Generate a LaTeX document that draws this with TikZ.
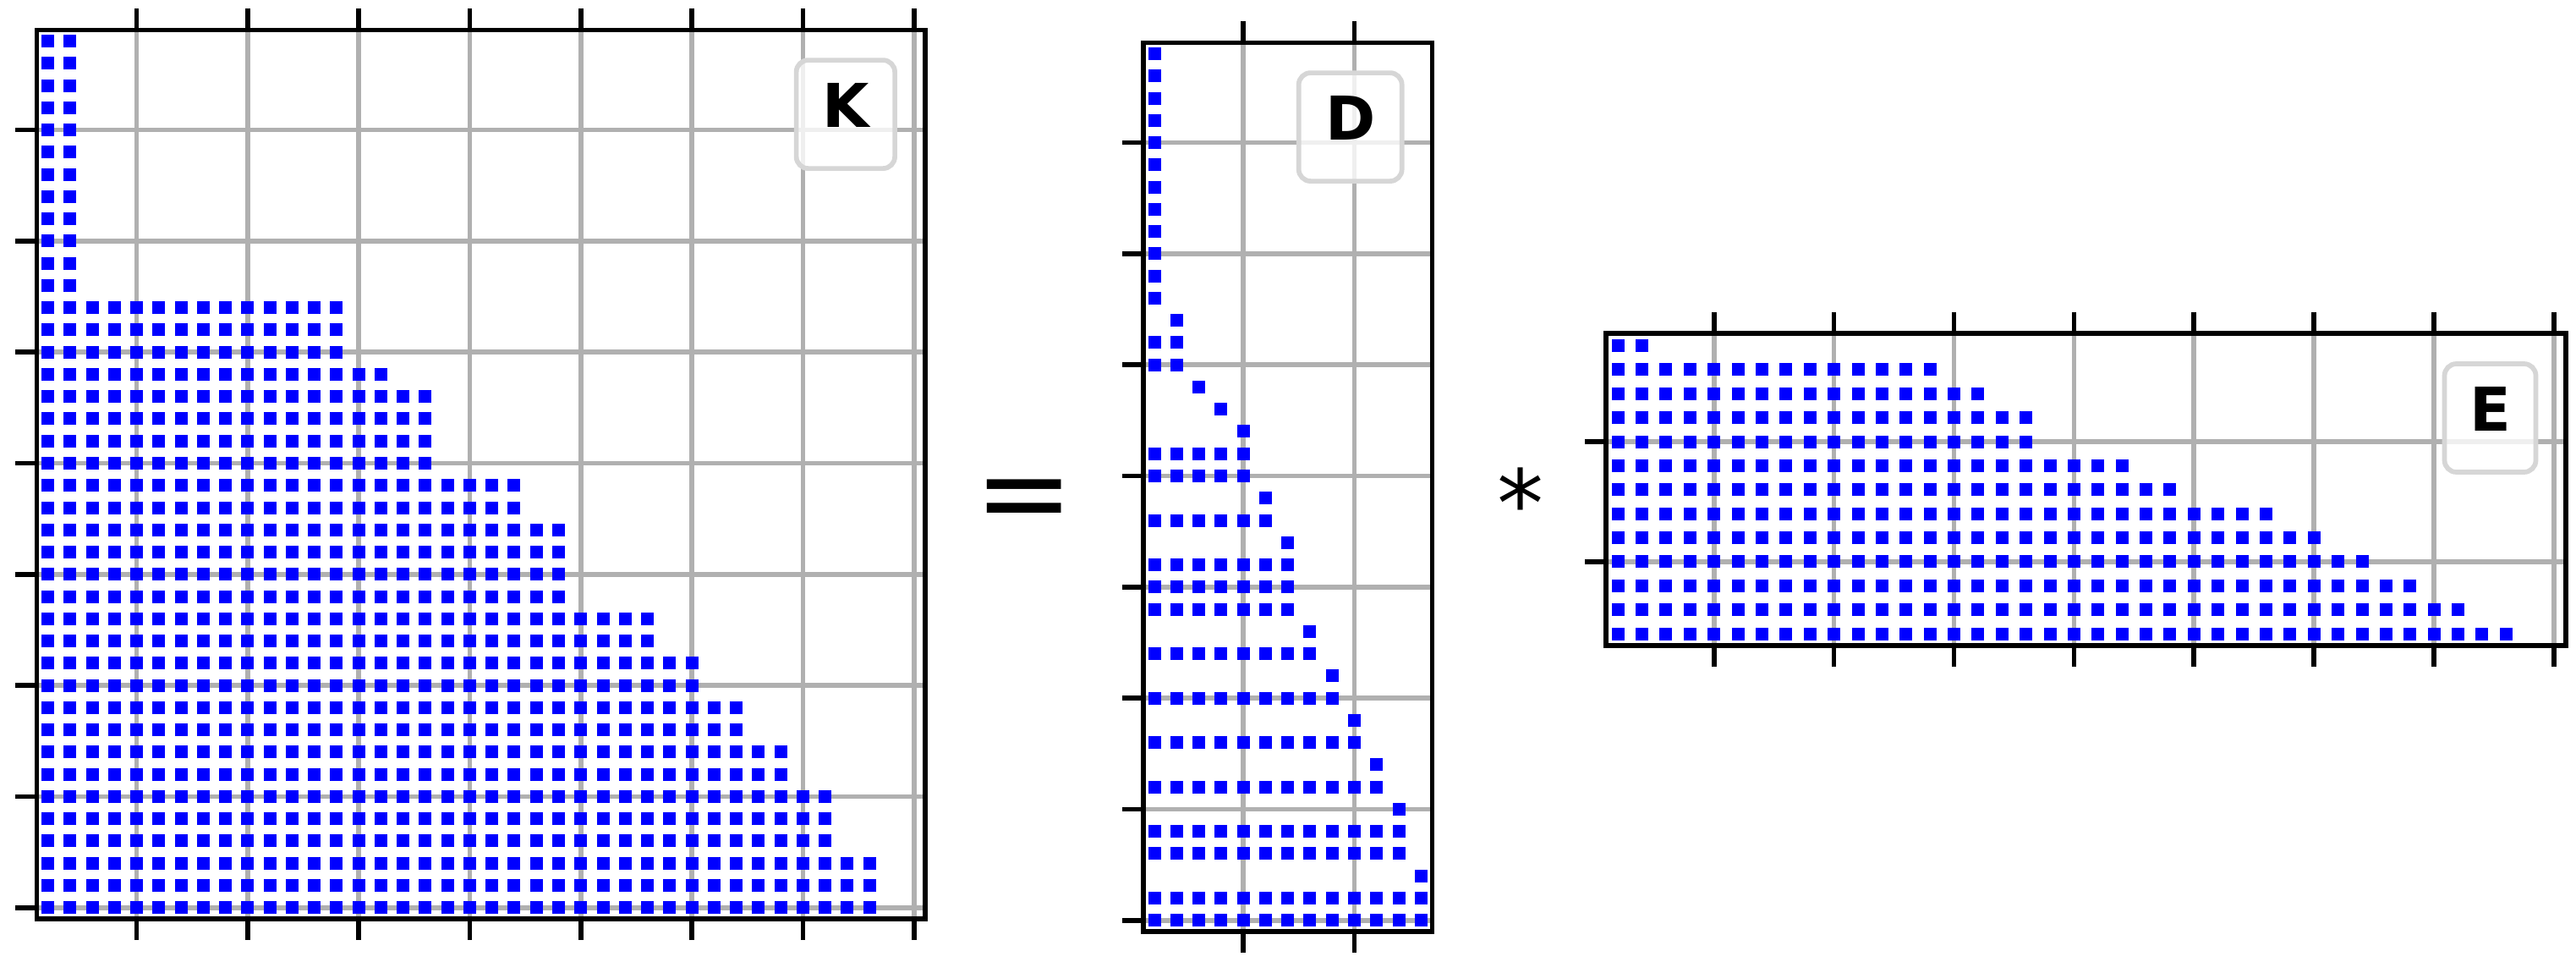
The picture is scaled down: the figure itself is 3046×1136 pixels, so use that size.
\documentclass[tikz,border=0pt]{standalone}
\usepackage{fontspec}
\newfontfamily\djsans{DejaVu Sans}
\definecolor{gridgrey}{HTML}{B0B0B0}
\definecolor{markerblue}{HTML}{0000FF}
\definecolor{legendgrey}{HTML}{D6D6D6}
\begin{document}
\begin{tikzpicture}[x=1pt,y=-1pt,
  gridline/.style={draw=gridgrey, line width=5.7pt},
  frameline/.style={draw=black, line width=5.8pt},
  tickline/.style={draw=black, line width=5.7pt},
  marker/.style={fill=markerblue},
  legendbox/.style={draw=legendgrey, fill=white, fill opacity=0.8, text opacity=1,
    line width=5.7pt, rounded corners=14pt, anchor=north east, inner sep=0pt, outer sep=0pt,
    font=\djsans\bfseries\fontsize{71.4pt}{80pt}\selectfont,
    text height=52pt, text depth=21.6pt, minimum height=128pt},
  opsign/.style={font=\djsans\fontsize{140pt}{160pt}\selectfont, inner sep=0pt},
  starsign/.style={font=\djsans\fontsize{110pt}{130pt}\selectfont, inner sep=0pt}
]
\useasboundingbox[fill=white] (0,0) rectangle (3046,1136);

% ---------------- K (40 x 40) ----------------
\begin{scope}[shift={(43.4,35.4)}, x=26.26pt, y=-26.26pt]
  \foreach \c in {5,10,...,40} \draw[gridline] ({\c-0.5},0) -- ({\c-0.5},40);
  \foreach \r in {5,10,...,40} \draw[gridline] (0,{\r-0.5}) -- (40,{\r-0.5});
  \foreach \r/\e in {1/2,2/2,3/2,4/2,5/2,6/2,7/2,8/2,9/2,10/2,11/2,12/2,
      13/14,14/14,15/14,16/16,17/18,18/18,19/18,20/18,21/22,22/22,
      23/24,24/24,25/24,26/24,27/28,28/28,29/30,30/30,31/32,32/32,
      33/34,34/34,35/36,36/36,37/36,38/38,39/38,40/38}
    \foreach \c in {1,...,\e}
      \fill[marker] ({\c-0.5},{\r-0.5}) ++(-7.5pt,-7.5pt) rectangle ++(15pt,15pt);
  \node[legendbox, minimum width=116.5pt] (Klabel) at ([shift={(-35.7pt,-35.7pt)}]40,0) {K};
  \foreach \c in {5,10,...,40} {
    \draw[tickline] ({\c-0.5},0) -- ++(0,25pt);
    \draw[tickline] ({\c-0.5},40) -- ++(0,-25pt);
  }
  \foreach \r in {5,10,...,40} \draw[tickline] (0,{\r-0.5}) -- ++(-25pt,0);
  \draw[frameline] (0,0) rectangle (40,40);
\end{scope}

% ---------------- D (40 x 13) ----------------
\begin{scope}[shift={(1352,50.4)}, x=26.26pt, y=-26.26pt]
  \foreach \c in {5,10} \draw[gridline] ({\c-0.5},0) -- ({\c-0.5},40);
  \foreach \r in {5,10,...,40} \draw[gridline] (0,{\r-0.5}) -- (13,{\r-0.5});
  \foreach \r/\a/\b in {1/1/1,2/1/1,3/1/1,4/1/1,5/1/1,6/1/1,7/1/1,8/1/1,9/1/1,10/1/1,11/1/1,12/1/1,
      13/2/2,14/1/2,15/1/2,16/3/3,17/4/4,18/5/5,19/1/5,20/1/5,21/6/6,22/1/6,
      23/7/7,24/1/7,25/1/7,26/1/7,27/8/8,28/1/8,29/9/9,30/1/9,31/10/10,32/1/10,
      33/11/11,34/1/11,35/12/12,36/1/12,37/1/12,38/13/13,39/1/13,40/1/13}
    \foreach \c in {\a,...,\b}
      \fill[marker] ({\c-0.5},{\r-0.5}) ++(-7.5pt,-7.5pt) rectangle ++(15pt,15pt);
  \node[legendbox, minimum width=122pt] (Dlabel) at ([shift={(-35.7pt,-35.7pt)}]13,0) {D};
  \foreach \c in {5,10} {
    \draw[tickline] ({\c-0.5},0) -- ++(0,25pt);
    \draw[tickline] ({\c-0.5},40) -- ++(0,-25pt);
  }
  \foreach \r in {5,10,...,40} \draw[tickline] (0,{\r-0.5}) -- ++(-25pt,0);
  \draw[frameline] (0,0) rectangle (13,40);
\end{scope}

% ---------------- E (13 x 40) ----------------
\begin{scope}[shift={(1899,394.3)}, x=28.38pt, y=-28.38pt]
  \foreach \c in {5,10,...,40} \draw[gridline] ({\c-0.5},0) -- ({\c-0.5},13);
  \foreach \r in {5,10} \draw[gridline] (0,{\r-0.5}) -- (40,{\r-0.5});
  \foreach \r/\e in {1/2,2/14,3/16,4/18,5/18,6/22,7/24,8/28,9/30,10/32,11/34,12/36,13/38}
    \foreach \c in {1,...,\e}
      \fill[marker] ({\c-0.5},{\r-0.5}) ++(-7.5pt,-7.5pt) rectangle ++(15pt,15pt);
  \node[legendbox, minimum width=108pt] (Elabel) at ([shift={(-35.7pt,-35.7pt)}]40,0) {E};
  \foreach \c in {5,10,...,40} {
    \draw[tickline] ({\c-0.5},0) -- ++(0,25pt);
    \draw[tickline] ({\c-0.5},13) -- ++(0,-25pt);
  }
  \foreach \r in {5,10} \draw[tickline] (0,{\r-0.5}) -- ++(-25pt,0);
  \draw[frameline] (0,0) rectangle (40,13);
\end{scope}

% ---------------- operators ----------------
\node[opsign] (eq) at (1211.5,599) {=};
\node[starsign] (times) at (1798,594) {*};
\end{tikzpicture}
\end{document}
